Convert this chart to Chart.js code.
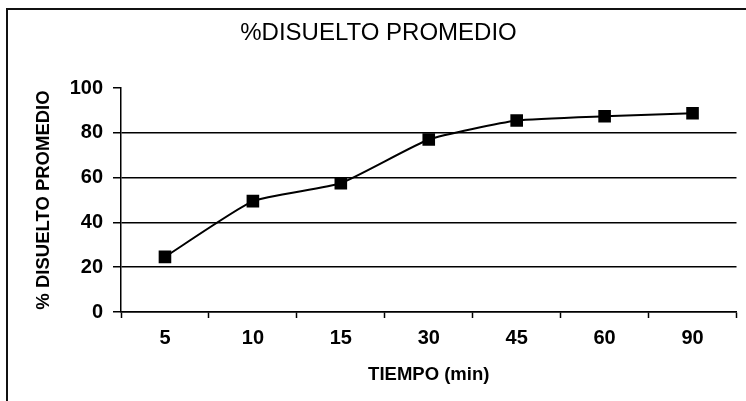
<!DOCTYPE html>
<html>
<head>
<meta charset="utf-8">
<script src="https://cdn.jsdelivr.net/npm/chart.js@4/dist/chart.umd.min.js"></script>
<style>
  html, body { margin: 0; padding: 0; background: #fff; }
  #box { width: 746px; height: 401px; }
</style>
</head>
<body>
<div id="box"><canvas id="disueltoGr"></canvas></div>
<script>
// %Disuelto promedio vs tiempo
const tiempos = ['5', '10', '15', '30', '45', '60', '90'];
const disuelto = [24.6, 49.5, 57.5, 77, 85.5, 87.4, 88.7];
const yTicks = [0, 20, 40, 60, 80, 100];

const fuente = "'Liberation Sans', Arial, sans-serif";

// marco del gráfico (borde izquierdo y superior del recorte)
const marco = {
    id: 'marco',
    beforeDraw(chart) {
        const ctx = chart.ctx;
        ctx.save();
        ctx.fillStyle = '#fff';
        ctx.fillRect(0, 0, chart.width, chart.height);
        ctx.strokeStyle = '#111';
        ctx.lineWidth = 2;
        ctx.beginPath();
        ctx.moveTo(7, chart.height);
        ctx.lineTo(7, 9);
        ctx.lineTo(chart.width, 9);
        ctx.stroke();
        ctx.restore();
    }
};

const data = {
    labels: tiempos,
    datasets: [{
        label: '%DISUELTO PROMEDIO',
        data: disuelto,
        borderColor: '#000',
        backgroundColor: '#000',
        borderWidth: 2,
        tension: 0.15,
        pointStyle: 'rect',
        pointRadius: 7.5,
        pointHoverRadius: 7.5,
        fill: false
    }]
};

const config = {
    type: 'line',
    data: data,
    plugins: [marco],
    options: {
        responsive: true,
        maintainAspectRatio: false,
        animation: false,
        layout: { padding: { left: 18, right: 7, top: 0, bottom: 0 } },
        plugins: {
            legend: { display: false },
            tooltip: { enabled: false },
            title: {
                display: true,
                text: '%DISUELTO PROMEDIO',
                color: '#000',
                font: { size: 24, family: fuente, weight: 'normal' },
                padding: { top: 19, bottom: 40.2 }
            }
        },
        scales: {
            x: {
                type: 'category',
                offset: true,
                afterFit: (s) => { s.height = 89; },
                border: { display: true, color: '#000', width: 1.5 },
                grid: {
                    offset: true,
                    drawOnChartArea: false,
                    drawTicks: true,
                    tickLength: 6,
                    tickColor: '#000',
                    tickWidth: 1.5
                },
                ticks: {
                    color: '#000',
                    padding: 8,
                    font: { size: 20, family: fuente, weight: 'bold' }
                },
                title: {
                    display: true,
                    text: 'TIEMPO (min)',
                    color: '#000',
                    font: { size: 18.5, family: fuente, weight: 'bold' },
                    padding: { top: 0, bottom: 15 }
                }
            },
            y: {
                min: 0,
                max: 100,
                afterFit: (s) => { s.width = 103; },
                afterBuildTicks: (s) => { s.ticks = yTicks.map(v => ({ value: v })); },
                border: { display: true, color: '#000', width: 1.5 },
                grid: {
                    color: (c) => (c.tick && c.tick.value === 100) ? 'rgba(0,0,0,0)' : '#000',
                    lineWidth: 1.5,
                    drawTicks: true,
                    tickLength: 8,
                    tickColor: '#000',
                    tickWidth: 1.5
                },
                ticks: {
                    color: '#000',
                    padding: 10,
                    font: { size: 20, family: fuente, weight: 'bold' }
                },
                title: {
                    display: true,
                    text: '% DISUELTO PROMEDIO',
                    color: '#000',
                    font: { size: 18.5, family: fuente, weight: 'bold' },
                    padding: { top: 15, bottom: 0 }
                }
            }
        }
    }
};

const myChart = new Chart(document.getElementById('disueltoGr'), config);
</script>
</body>
</html>
